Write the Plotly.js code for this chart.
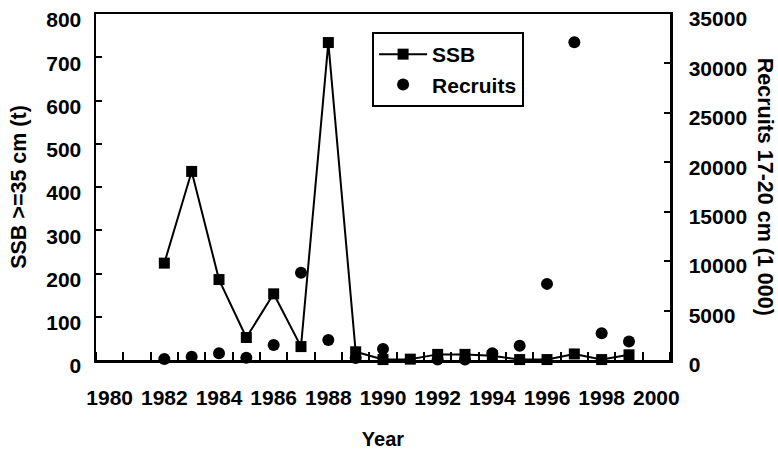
<!DOCTYPE html>
<html>
<head>
<meta charset="utf-8">
<script src="https://cdn.plot.ly/plotly-3.0.1.min.js"></script>
<style>html,body{margin:0;padding:0;background:#fff;}#chart{width:778px;height:452px;}</style>
</head>
<body>
<div id="chart"></div>
<script>
const years = [1982,1983,1984,1985,1986,1987,1988,1989,1990,1991,1992,1993,1994,1995,1996,1997,1998,1999];
const ssb = [224,436,186,52,153,31,734,19,1,2,13,13,10,1,1,14,1,12];
const recruits = [100,330,680,230,1520,8820,2030,200,1110,null,50,50,680,1450,7700,32150,2700,1860];
const xTickLabels = [1980,1982,1984,1986,1988,1990,1992,1994,1996,1998,2000];

const F = 'Liberation Sans, Arial, sans-serif';

const traces = [
  {x: years, y: ssb, name: 'SSB', type: 'scatter', mode: 'lines+markers',
   line: {color: '#000', width: 2}, marker: {symbol: 'square', size: 11, color: '#000'},
   cliponaxis: false, legendgroup: 'a', xaxis: 'x', yaxis: 'y'},
  {x: years, y: recruits, name: 'Recruits', type: 'scatter', mode: 'markers',
   marker: {symbol: 'circle', size: 12, color: '#000'},
   cliponaxis: false, legendgroup: 'b', xaxis: 'x', yaxis: 'y2'}
];

const layout = {
  width: 778, height: 452,
  margin: {l: 96, r: 108, t: 14, b: 92},
  paper_bgcolor: '#fff', plot_bgcolor: '#fff',
  font: {family: F, color: '#000', size: 21, weight: 700},
  showlegend: true,
  legend: {x: 0.481, y: 0.948, xanchor: 'left', yanchor: 'top',
    bordercolor: '#000', borderwidth: 2, bgcolor: '#fff',
    font: {family: F, size: 21, weight: 700, color: '#000'},
    tracegroupgap: 0, itemwidth: 48},
  xaxis: {
    range: [1979.5, 2000.5], tickvals: xTickLabels, ticktext: xTickLabels.map(String),
    ticks: '', showgrid: false, zeroline: false,
    showline: true, linecolor: '#000', linewidth: 2.5, mirror: true,
    minor: {tick0: 1979.5, dtick: 1, ticks: 'inside', ticklen: 8, tickwidth: 2, tickcolor: '#000', showgrid: false},
    tickfont: {family: F, size: 21, weight: 700}, ticklabelstandoff: 17,
    title: {text: 'Year', font: {family: F, size: 20, weight: 700}, standoff: 25}
  },
  yaxis: {
    range: [0, 800], dtick: 100, tick0: 0, ticks: 'inside', ticklen: 6, tickwidth: 2, tickcolor: '#000',
    showgrid: false, zeroline: false, showline: true, linecolor: '#000', linewidth: 2.5,
    tickfont: {family: F, size: 21, weight: 700}, ticklabelstandoff: 8, ticklabelshift: 6,
    ticklabeloverflow: 'allow',
    title: {text: 'SSB >=35 cm (t)', font: {family: F, size: 21.5, weight: 700}, standoff: 14}
  },
  yaxis2: {
    range: [0, 35000], dtick: 5000, tick0: 0, tickformat: 'd', overlaying: 'y', side: 'right', anchor: 'x',
    ticks: 'inside', ticklen: 6, tickwidth: 2, tickcolor: '#000',
    showgrid: false, zeroline: false, showline: true, linecolor: '#000', linewidth: 2.5,
    tickfont: {family: F, size: 21, weight: 700}, ticklabelstandoff: 12, ticklabelshift: 5,
    ticklabeloverflow: 'allow'
  },
  annotations: [{
    text: 'Recruits 17-20 cm (1 000)', xref: 'paper', yref: 'paper', x: 1.166, y: 0.5,
    xanchor: 'center', yanchor: 'middle', textangle: 90, showarrow: false,
    font: {family: F, size: 21.5, weight: 700, color: '#000'}
  }]
};

Plotly.newPlot('chart', traces, layout, {staticPlot: true, displayModeBar: false});
</script>
</body>
</html>
